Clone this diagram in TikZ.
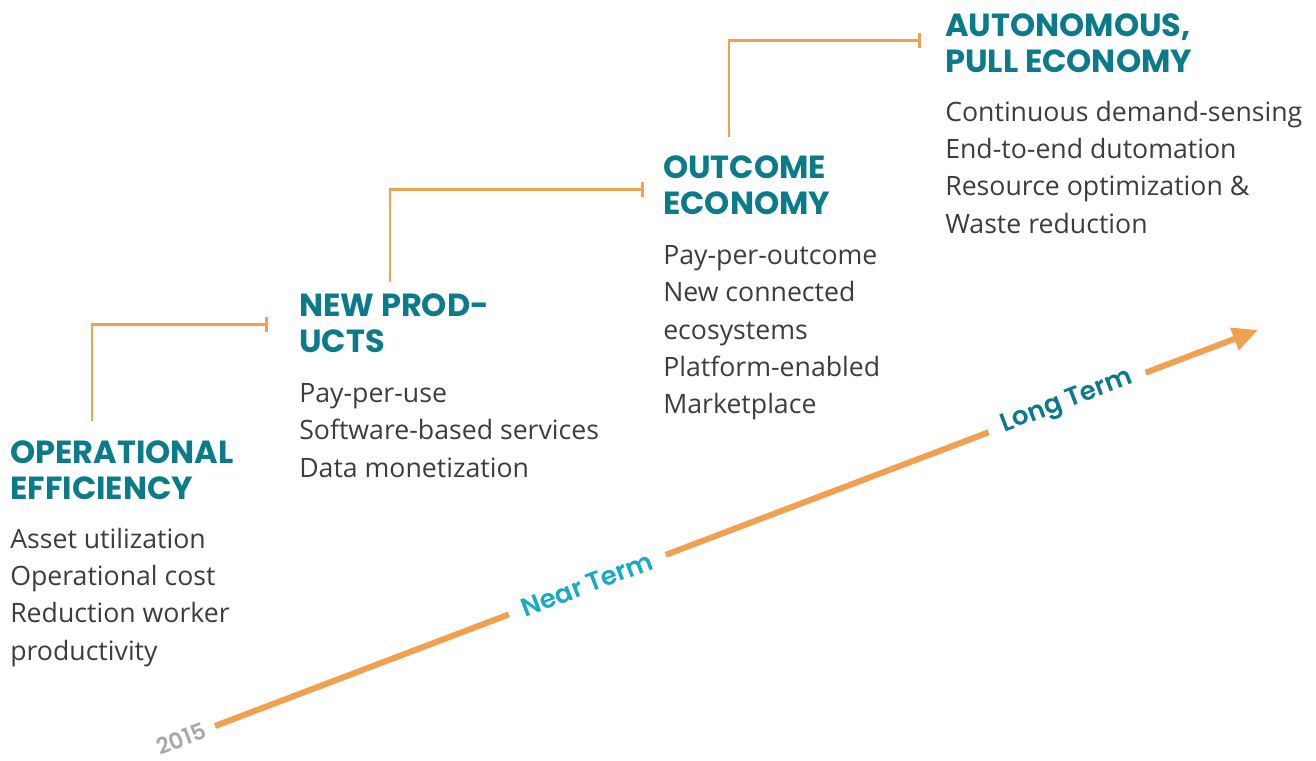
\documentclass[tikz,border=0pt]{standalone}
\usepackage{fontspec}
\setmainfont{Open Sans}
\newfontfamily\headfont{Poppins}
\newfontfamily\termfont{Poppins}[UprightFont=* SemiBold]
\usetikzlibrary{arrows.meta,positioning}
\definecolor{tealhead}{HTML}{0B7B8A}
\definecolor{nearcol}{HTML}{19AAC3}
\definecolor{linecol}{HTML}{F0A04E}
\definecolor{bodycol}{HTML}{3D3D3D}
\definecolor{yearcol}{HTML}{A9A9A9}

\begin{document}
\begin{tikzpicture}[x=0.75pt,y=-0.75pt,
  head/.style={anchor=north west,inner sep=0pt,align=left,text=tealhead,
    font=\headfont\bfseries\fontsize{24}{27}\selectfont},
  body/.style={anchor=north west,inner sep=0pt,align=left,text=bodycol,
    font=\fontsize{20}{28}\selectfont},
  link/.style={draw=linecol,line width=2pt,-{Bar[width=11pt]}},
  term/.style={sloped,fill=white,inner xsep=11pt,inner ysep=2pt,
    font=\termfont\fontsize{19.5}{19.5}\selectfont}]
  \useasboundingbox (0,0) rectangle (1316,760);
  % stages
  \node (h1) [head] at (10,440) {OPERATIONAL\\EFFICIENCY};
  \node (t1) [body,below=21pt of h1.south west,anchor=north west]
    {Asset utilization\\Operational cost\\Reduction worker\\productivity};
  \node (h2) [head] at (299,293) {NEW PROD-\\UCTS};
  \node (t2) [body,below=23pt of h2.south west,anchor=north west]
    {Pay-per-use\\Software-based services\\Data monetization};
  \node (h3) [head] at (663,155) {OUTCOME\\ECONOMY};
  \node (t3) [body,below=23pt of h3.south west,anchor=north west]
    {Pay-per-outcome\\New connected\\ecosystems\\Platform-enabled\\Marketplace};
  \node (h4) [head] at (945,13) {AUTONOMOUS,\\PULL ECONOMY};
  \node (t4) [body,below=21pt of h4.south west,anchor=north west]
    {Continuous demand-sensing\\End-to-end dutomation\\Resource optimization \&\\Waste reduction};
  %
  \draw[link] ([shift={(82,-19)}]h1.north west) |- ([shift={(-31,2)}]h2.west);
  \draw[link] ([shift={(91,-11)}]h2.north west) |- ([shift={(-19,5)}]h3.west);
  \draw[link] ([shift={(66,-18)}]h3.north west) |- ([shift={(-24,-2)}]h4.west);
  % timeline
  \coordinate (s) at (215,726);
  \coordinate (e) at (1258,330);
  \draw[draw=linecol,line width=4.5pt,-{Triangle[length=19pt,width=17pt]}] (s)
    -- node[term,text=nearcol,pos=.357] (near) {Near Term}
       node[term,text=tealhead,pos=.817] (long) {Long Term}
       node[sloped,pos=0,anchor=east,inner sep=6pt,text=yearcol,
         font=\termfont\fontsize{17}{17}\selectfont] (year) {2015} (e);
\end{tikzpicture}
\end{document}
